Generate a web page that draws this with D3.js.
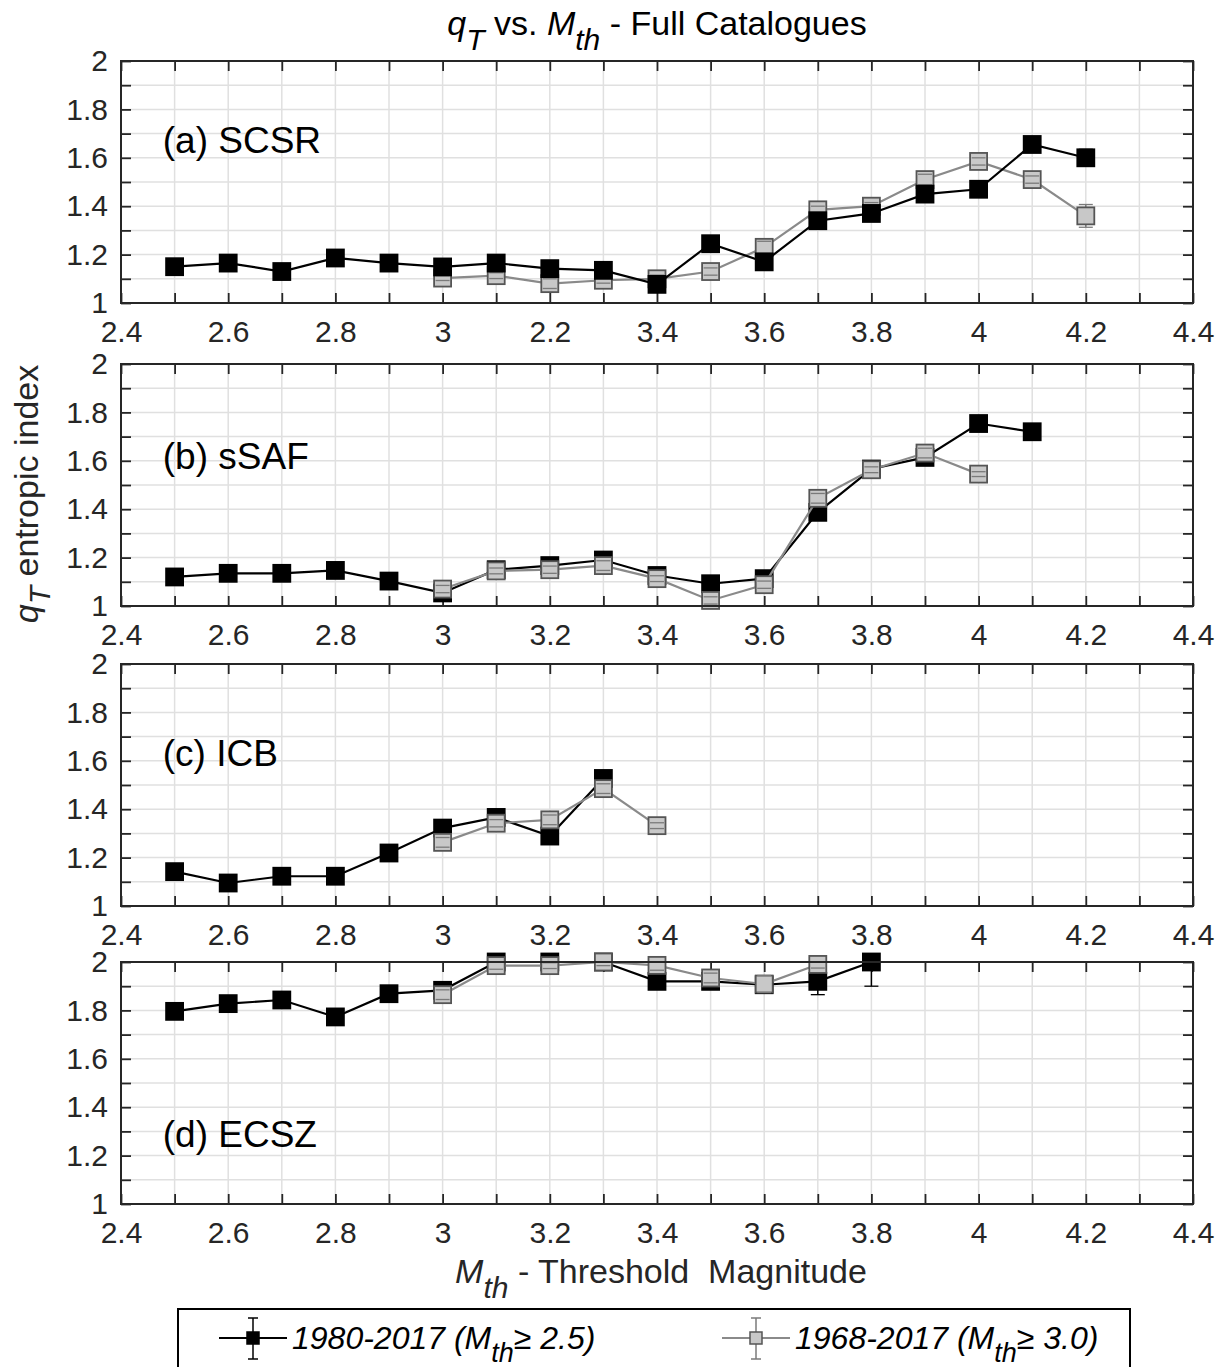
<!DOCTYPE html>
<html>
<head>
<meta charset="utf-8">
<script src="https://cdn.jsdelivr.net/npm/d3@7"></script>
<style>
    body { margin: 0; background: #fff; }
    svg { font-family: "Liberation Sans", Arial, Helvetica, sans-serif; }
    .pre { white-space: pre; }
</style>
</head>
<body>
<svg id="container" width="1223" height="1367"></svg>
<script>

// Threshold magnitudes shared by all series (null = no value)
const mth = [2.5, 2.6, 2.7, 2.8, 2.9, 3.0, 3.1, 3.2, 3.3, 3.4, 3.5, 3.6, 3.7, 3.8, 3.9, 4.0, 4.1, 4.2];

const panelLabels = ["(a) SCSR", "(b) sSAF", "(c) ICB", "(d) ECSZ"];
const panelLabelLevel = [1.62, 1.566, 1.58, 1.235];

const xTickValues = [2.4, 2.6, 2.8, 3.0, 3.2, 3.4, 3.6, 3.8, 4.0, 4.2, 4.4];
const xTickLabelsA = ["2.4", "2.6", "2.8", "3", "2.2", "3.4", "3.6", "3.8", "4", "4.2", "4.4"]; // as printed in panel (a)
const xTickLabels = ["2.4", "2.6", "2.8", "3", "3.2", "3.4", "3.6", "3.8", "4", "4.2", "4.4"];
const yTickValues = [1, 1.2, 1.4, 1.6, 1.8, 2];
const yTickLabels = ["1", "1.2", "1.4", "1.6", "1.8", "2"];

// (a) SCSR
const scsr1980 = [1.15, 1.165, 1.13, 1.186, 1.165, 1.149, 1.165, 1.142, 1.135, 1.077, 1.245, 1.17, 1.34, 1.37, 1.45, 1.47, 1.655, 1.60];
const scsr1980Err = [0.01, 0.01, 0.01, 0.01, 0.01, 0.01, 0.01, 0.01, 0.01, 0.01, 0.01, 0.01, 0.015, 0.015, 0.02, 0.02, 0.02, 0.035];
const scsr1968 = [null, null, null, null, null, 1.103, 1.113, 1.08, 1.094, 1.1, 1.13, 1.23, 1.385, 1.40, 1.51, 1.585, 1.51, 1.36];
const scsr1968Err = [null, null, null, null, null, 0.01, 0.012, 0.02, 0.012, 0.015, 0.015, 0.025, 0.015, 0.015, 0.022, 0.015, 0.015, 0.047];

// (b) sSAF
const ssaf1980 = [1.12, 1.135, 1.135, 1.147, 1.103, 1.054, 1.15, 1.167, 1.19, 1.126, 1.092, 1.113, 1.387, 1.566, 1.614, 1.754, 1.72, null];
const ssaf1980Err = [0.01, 0.01, 0.01, 0.01, 0.01, 0.01, 0.01, 0.015, 0.015, 0.015, 0.01, 0.015, 0.015, 0.015, 0.015, 0.02, 0.01, null];
const ssaf1968 = [null, null, null, null, null, 1.07, 1.145, 1.15, 1.167, 1.113, 1.023, 1.088, 1.445, 1.563, 1.632, 1.545, null, null];
const ssaf1968Err = [null, null, null, null, null, 0.015, 0.012, 0.015, 0.02, 0.012, 0.015, 0.015, 0.02, 0.012, 0.02, 0.01, null, null];

// (c) ICB
const icb1980 = [1.142, 1.095, 1.123, 1.123, 1.219, 1.322, 1.366, 1.289, 1.527, null, null, null, null, null, null, null, null, null];
const icb1980Err = [0.01, 0.01, 0.01, 0.01, 0.01, 0.015, 0.015, 0.015, 0.02, null, null, null, null, null, null, null, null, null];
const icb1968 = [null, null, null, null, null, 1.263, 1.342, 1.356, 1.485, 1.332, null, null, null, null, null, null, null, null];
const icb1968Err = [null, null, null, null, null, 0.02, 0.015, 0.02, 0.02, 0.012, null, null, null, null, null, null, null, null];

// (d) ECSZ
const ecsz1980 = [1.796, 1.828, 1.843, 1.773, 1.869, 1.883, 2.0, 2.0, 2.0, 1.92, 1.92, 1.906, 1.92, 2.0, null, null, null, null];
const ecsz1980Err = [0.01, 0.01, 0.01, 0.01, 0.01, 0.015, 0.015, 0.01, 0.01, 0.015, 0.012, 0.012, 0.055, 0.1, null, null, null, null];
const ecsz1968 = [null, null, null, null, null, 1.865, 1.985, 1.985, 2.0, 1.986, 1.934, 1.909, 1.99, null, null, null, null, null];
const ecsz1968Err = [null, null, null, null, null, 0.02, 0.015, 0.012, 0.015, 0.02, 0.02, 0.035, 0.015, null, null, null, null, null];

const margin = { left: 121, right: 30 };
const plotW = 1072;
const panelH = 242;
const panelTops = [61, 364, 664, 962];

const tickColor = "#262626";
const gridColor = "#e0e0e0";
const fontSize = 30;

let svg = d3.select("#container");

let x = d3.scaleLinear().domain([2.4, 4.4]).range([0, plotW]);
let xMinor = d3.range(24, 45).map(d => d / 10);
let yMinor = d3.range(10, 21).map(d => d / 10);

let series = function (q, err) {
    return mth.map((m, i) => ({ m: m, q: q[i], e: err[i] })).filter(d => d.q != null);
};

let panels = [
    { label: panelLabels[0], black: series(scsr1980, scsr1980Err), gray: series(scsr1968, scsr1968Err), xLabels: xTickLabelsA, grayOnTop: false },
    { label: panelLabels[1], black: series(ssaf1980, ssaf1980Err), gray: series(ssaf1968, ssaf1968Err), xLabels: xTickLabels, grayOnTop: true },
    { label: panelLabels[2], black: series(icb1980, icb1980Err), gray: series(icb1968, icb1968Err), xLabels: xTickLabels, grayOnTop: true },
    { label: panelLabels[3], black: series(ecsz1980, ecsz1980Err), gray: series(ecsz1968, ecsz1968Err), xLabels: xTickLabels, grayOnTop: true }
];

const styles = {
    black: { line: "#000", fill: "#000", edge: "#000", bar: "#000" },
    gray: { line: "#8a8a8a", fill: "#c8c8c8", edge: "#555", bar: "#7a7a7a" }
};

const msize = 17;

function drawSeries(g, data, y, st, clipId) {
    let line = d3.line().x(d => x(d.m)).y(d => y(d.q));
    g.append("path")
        .datum(data)
        .attr("d", line)
        .attr("fill", "none")
        .attr("stroke", st.line)
        .attr("stroke-width", 2.2);

    // vertical part of the error bars
    let eb = g.append("g").attr("clip-path", `url(#${clipId})`)
        .attr("stroke", st.bar).attr("stroke-width", 1.5);
    eb.selectAll("line")
        .data(data).enter()
        .append("line")
        .attr("x1", d => x(d.m)).attr("x2", d => x(d.m))
        .attr("y1", d => y(d.q - d.e)).attr("y2", d => y(d.q + d.e));

    g.append("g").selectAll("rect")
        .data(data).enter()
        .append("rect")
        .attr("x", d => x(d.m) - msize / 2)
        .attr("y", d => y(d.q) - msize / 2)
        .attr("width", msize)
        .attr("height", msize)
        .attr("fill", st.fill)
        .attr("stroke", st.edge)
        .attr("stroke-width", 1.8);

    // caps drawn over the markers
    let caps = g.append("g").attr("clip-path", `url(#${clipId})`)
        .attr("stroke", st.bar).attr("stroke-width", 1.3);
    data.forEach(d => {
        let cx = x(d.m);
        [d.q - d.e, d.q + d.e].forEach(v => {
            caps.append("line").attr("x1", cx - 7).attr("x2", cx + 7).attr("y1", y(v)).attr("y2", y(v));
        });
    });
}

panels.forEach((p, k) => {
    let top = panelTops[k];
    let y = d3.scaleLinear().domain([1, 2]).range([panelH, 0]);
    let g = svg.append("g").attr("transform", `translate(${margin.left},${top})`);

    let clipId = "clip" + k;
    svg.append("clipPath").attr("id", clipId)
        .append("rect").attr("x", 0).attr("y", 0).attr("width", plotW).attr("height", panelH);

    // Grid
    g.append("g").attr("class", "xgrid").selectAll("line")
        .data(xMinor).enter()
        .append("line")
        .attr("x1", d => x(d)).attr("x2", d => x(d))
        .attr("y1", 0).attr("y2", panelH)
        .attr("stroke", gridColor).attr("stroke-width", 1.5);
    g.append("g").attr("class", "ygrid").selectAll("line")
        .data(yMinor).enter()
        .append("line")
        .attr("x1", 0).attr("x2", plotW)
        .attr("y1", d => y(d)).attr("y2", d => y(d))
        .attr("stroke", gridColor).attr("stroke-width", 1.5);

    // Inward ticks on all four sides
    let tickAxes = [
        [d3.axisBottom(x).tickValues(xMinor), `translate(0,${panelH})`],
        [d3.axisTop(x).tickValues(xMinor), `translate(0,0)`],
        [d3.axisLeft(y).tickValues(yMinor), `translate(0,0)`],
        [d3.axisRight(y).tickValues(yMinor), `translate(${plotW},0)`]
    ];
    tickAxes.forEach(([ax, tr]) => {
        let a = g.append("g").attr("transform", tr)
            .call(ax.tickSize(-10).tickFormat(""));
        a.select(".domain").remove();
        a.selectAll("line").attr("stroke", tickColor).attr("stroke-width", 1.8);
    });

    // Tick labels
    let xl = g.append("g").attr("transform", `translate(0,${panelH})`)
        .call(d3.axisBottom(x).tickValues(xTickValues).tickSize(0).tickPadding(18)
            .tickFormat((d, i) => p.xLabels[i]));
    xl.select(".domain").remove();
    xl.selectAll("text").style("font-size", fontSize + "px").attr("fill", tickColor)
        .style("font-family", "'Liberation Sans', Arial, sans-serif");

    let yl = g.append("g")
        .call(d3.axisLeft(y).tickValues(yTickValues).tickSize(0).tickPadding(13)
            .tickFormat((d, i) => yTickLabels[i]));
    yl.select(".domain").remove();
    yl.selectAll("text").style("font-size", fontSize + "px").attr("fill", tickColor)
        .style("font-family", "'Liberation Sans', Arial, sans-serif");

    // Series
    if (p.grayOnTop) {
        drawSeries(g, p.black, y, styles.black, clipId);
        drawSeries(g, p.gray, y, styles.gray, clipId);
    } else {
        drawSeries(g, p.gray, y, styles.gray, clipId);
        drawSeries(g, p.black, y, styles.black, clipId);
    }

    // Box
    g.append("rect")
        .attr("x", 0).attr("y", 0).attr("width", plotW).attr("height", panelH)
        .attr("fill", "none").attr("stroke", tickColor).attr("stroke-width", 2);

    // Panel label
    g.append("text")
        .attr("x", x(2.478)).attr("y", y(panelLabelLevel[k]))
        .style("font-size", "37px")
        .attr("fill", "#000")
        .text(p.label);
});

// Title
let title = svg.append("text")
    .attr("x", 657).attr("y", 35)
    .attr("text-anchor", "middle")
    .style("font-size", "34px").attr("fill", "#000");
title.append("tspan").style("font-style", "italic").text("q");
title.append("tspan").style("font-style", "italic").style("font-size", "30px").attr("dy", 15).text("T");
title.append("tspan").attr("dy", -15).text(" vs. ");
title.append("tspan").style("font-style", "italic").text("M");
title.append("tspan").style("font-style", "italic").style("font-size", "30px").attr("dy", 15).text("th");
title.append("tspan").attr("dy", -15).text(" - Full Catalogues");

// X label
let xlab = svg.append("text")
    .attr("class", "pre")
    .attr("x", 661).attr("y", 1283)
    .attr("text-anchor", "middle")
    .style("font-size", "34px").attr("fill", "#262626");
xlab.append("tspan").style("font-style", "italic").text("M");
xlab.append("tspan").style("font-style", "italic").style("font-size", "30px").attr("dy", 15).text("th");
xlab.append("tspan").attr("dy", -15).text(" - Threshold  Magnitude");

// Y label
let ylab = svg.append("text")
    .attr("transform", "translate(38,494) rotate(-90)")
    .attr("text-anchor", "middle")
    .style("font-size", "34px").attr("fill", "#262626");
ylab.append("tspan").style("font-style", "italic").text("q");
ylab.append("tspan").style("font-style", "italic").style("font-size", "30px").attr("dy", 12).text("T");
ylab.append("tspan").attr("dy", -12).text(" entropic index");

// Legend
let legend = svg.append("g");
legend.append("rect")
    .attr("x", 178).attr("y", 1309).attr("width", 952).attr("height", 80)
    .attr("fill", "#fff").attr("stroke", "#000").attr("stroke-width", 2);

let legendItems = [
    { x0: 219, text: "1980-2017 (M", val: "\u2265 2.5)", st: styles.black },
    { x0: 722, text: "1968-2017 (M", val: "\u2265 3.0)", st: styles.gray }
];
let ly = 1338;
legendItems.forEach(it => {
    let cx = it.x0 + 34;
    legend.append("line").attr("x1", it.x0).attr("x2", it.x0 + 68).attr("y1", ly).attr("y2", ly)
        .attr("stroke", it.st.line).attr("stroke-width", 2.2);
    legend.append("line").attr("x1", cx).attr("x2", cx).attr("y1", ly - 20).attr("y2", ly + 21)
        .attr("stroke", it.st.bar).attr("stroke-width", 1.5);
    [ly - 20, ly + 21].forEach(yy => legend.append("line")
        .attr("x1", cx - 5).attr("x2", cx + 5).attr("y1", yy).attr("y2", yy)
        .attr("stroke", it.st.bar).attr("stroke-width", 1.5));
    legend.append("rect").attr("x", cx - 6).attr("y", ly - 6).attr("width", 12).attr("height", 12)
        .attr("fill", it.st.fill).attr("stroke", it.st.edge).attr("stroke-width", 1.5);
    let t = legend.append("text")
        .attr("class", "pre")
        .attr("x", it.x0 + 73).attr("y", ly + 11)
        .style("font-size", "32px").style("font-style", "italic").attr("fill", "#000");
    t.append("tspan").text(it.text);
    t.append("tspan").style("font-size", "27px").attr("dy", 13).text("th");
    t.append("tspan").attr("dy", -13).text(it.val);
});

</script>
</body>
</html>
